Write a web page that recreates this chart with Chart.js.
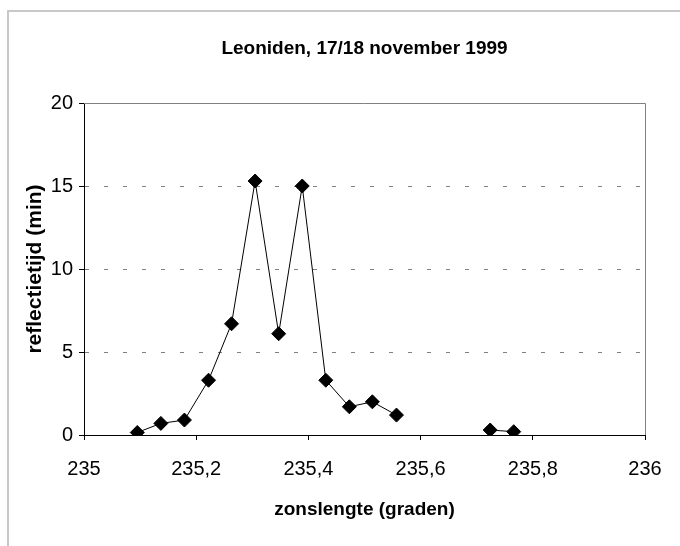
<!DOCTYPE html>
<html>
<head>
<meta charset="utf-8">
<script src="https://cdn.jsdelivr.net/npm/chart.js@4"></script>
<style>
  html, body { margin: 0; padding: 0; background: #ffffff; }
  #wrap { width: 680px; height: 546px; position: relative; }
</style>
</head>
<body>
<div id="wrap"><canvas id="leonidenChart"></canvas></div>
<script>
// Data
const zonslengte = [
  235.095, 235.137, 235.179, 235.222, 235.263, 235.305, 235.347, 235.389,
  235.431, 235.473, 235.514, 235.557, 235.64, 235.724, 235.766,
];
const reflectietijd = [
  0.15, 0.7, 0.9, 3.3, 6.7, 15.3, 6.1, 15.0,
  3.3, 1.7, 2.0, 1.2, null, 0.3, 0.2,
];
const yTicks = [0, 5, 10, 15, 20];

const chartTitle = "Leoniden, 17/18 november 1999";
const xTitle = "zonslengte (graden)";
const yTitle = "reflectietijd (min)";

const fontFamily = "'Liberation Sans', Arial, sans-serif";

// chart frame: light outer border, title, gray plot border top/right
const framePlugin = {
  id: "frame",
  beforeDraw(chart) {
    const ctx = chart.ctx;
    ctx.save();
    ctx.strokeStyle = "#c8c8c8";
    ctx.lineWidth = 2;
    ctx.beginPath();
    ctx.moveTo(8, 546);
    ctx.lineTo(8, 11);
    ctx.lineTo(680, 11);
    ctx.stroke();
    ctx.restore();
  },
  afterDraw(chart) {
    const { ctx, chartArea } = chart;
    ctx.save();
    ctx.strokeStyle = "#808080";
    ctx.lineWidth = 1;
    ctx.beginPath();
    ctx.moveTo(chartArea.left, chartArea.top + 0.5);
    ctx.lineTo(chartArea.right + 0.5, chartArea.top + 0.5);
    ctx.lineTo(chartArea.right + 0.5, chartArea.bottom);
    ctx.stroke();

    ctx.fillStyle = "#000000";
    ctx.font = "bold 19px " + fontFamily;
    ctx.textAlign = "center";
    ctx.textBaseline = "middle";
    ctx.fillText(chartTitle, (chartArea.left + chartArea.right) / 2, 49);
    ctx.restore();
  },
};

const points = zonslengte.map((x, i) => ({ x: x, y: reflectietijd[i] }));

new Chart(document.getElementById("leonidenChart"), {
  type: "line",
  data: {
    datasets: [
      {
        label: "reflectietijd",
        data: points,
        borderColor: "#000000",
        borderWidth: 1,
        backgroundColor: "#000000",
        pointStyle: "rectRot",
        pointRadius: 7,
        pointBorderWidth: 1,
        pointBorderColor: "#000000",
        pointBackgroundColor: "#000000",
        tension: 0,
        spanGaps: false,
      },
    ],
  },
  options: {
    responsive: true,
    maintainAspectRatio: false,
    animation: false,
    layout: {
      padding: { left: 0, top: 103, right: 35, bottom: 0 },
    },
    plugins: {
      legend: { display: false },
      tooltip: { enabled: false },
    },
    scales: {
      x: {
        type: "linear",
        min: 235,
        max: 236,
        afterFit: function (scale) {
          scale.height = 111;
        },
        ticks: {
          stepSize: 0.2,
          padding: 17,
          color: "#000000",
          font: { family: fontFamily, size: 20 },
          callback: function (value) {
            return (Math.round(value * 10) / 10).toString().replace(".", ",");
          },
        },
        grid: {
          drawOnChartArea: false,
          drawTicks: true,
          tickLength: 5,
          tickColor: "#000000",
        },
        border: { color: "#000000", width: 1 },
        title: {
          display: true,
          text: xTitle,
          color: "#000000",
          font: { family: fontFamily, size: 19, weight: "bold" },
          padding: { top: 0, bottom: 25 },
        },
      },
      y: {
        min: 0,
        max: 20,
        afterFit: function (scale) {
          scale.width = 84;
        },
        afterBuildTicks: function (scale) {
          scale.ticks = yTicks.map((v) => ({ value: v }));
        },
        ticks: {
          padding: 6,
          color: "#000000",
          font: { family: fontFamily, size: 20 },
        },
        grid: {
          color: function (c) {
            const v = c.tick ? c.tick.value : null;
            return v === 0 || v === 20 ? "rgba(0,0,0,0)" : "#808080";
          },
          lineWidth: 1,
          drawTicks: true,
          tickLength: 5,
          tickColor: "#000000",
          tickBorderDash: [],
        },
        border: { color: "#000000", width: 1, dash: [4, 15] },
        title: {
          display: true,
          text: yTitle,
          color: "#000000",
          font: { family: fontFamily, size: 21, weight: "bold" },
          padding: { top: 23, bottom: 0 },
        },
      },
    },
  },
  plugins: [framePlugin],
});
</script>
</body>
</html>
